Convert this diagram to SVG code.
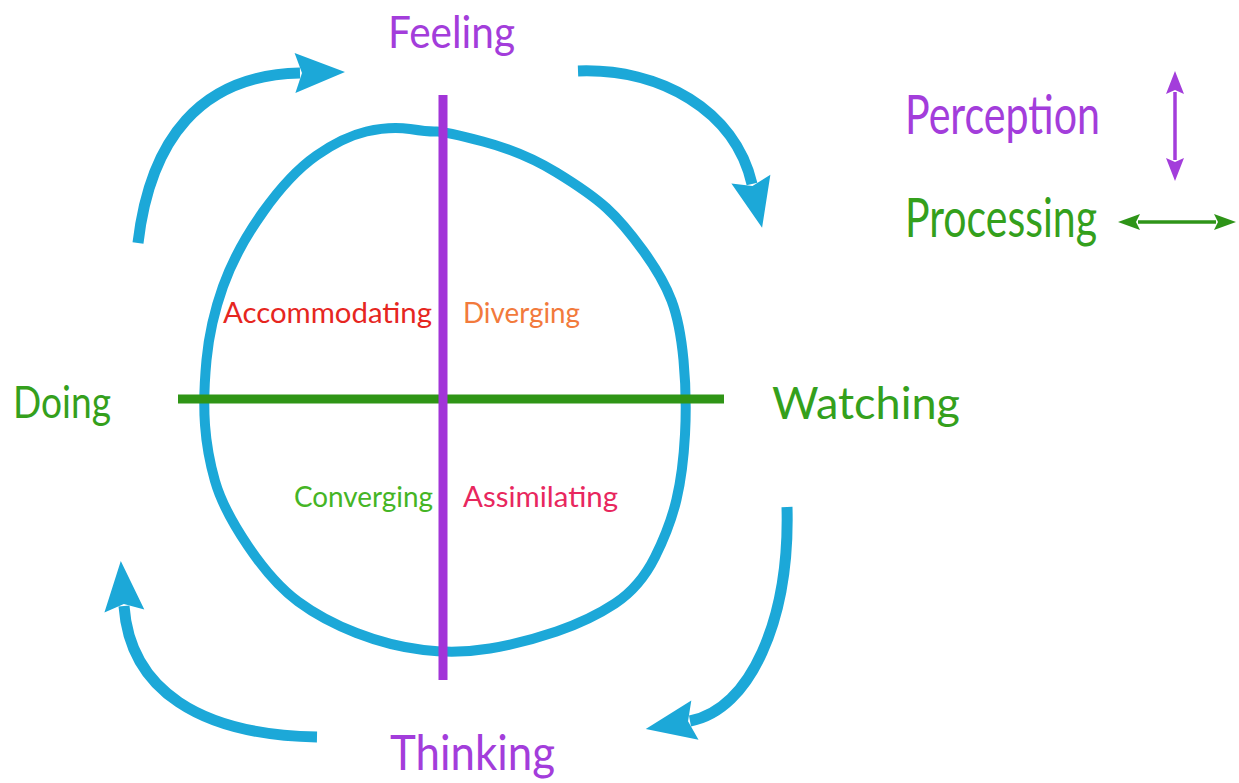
<svg xmlns="http://www.w3.org/2000/svg" width="1239" height="783" viewBox="0 0 1239 783">
  <style>
    .cycle { fill: none; stroke: #1ca8d8; stroke-width: 11; stroke-linecap: butt; }
    .loop { fill: none; stroke: #1ca8d8; stroke-width: 10; stroke-linejoin: round; }
    .label { font-family: Lato, "Open Sans", sans-serif; }
    .purple { fill: #a33ddb; }
    .green { fill: #34a01c; }
  </style>
  <defs>
    <marker id="blueHead" markerUnits="userSpaceOnUse" markerWidth="52" markerHeight="42" viewBox="0 0 52 42" refX="5" refY="21" orient="auto" overflow="visible">
      <path d="M0,1 L50,21 L0,41 L7,21 Z" fill="#1ca8d8"/>
    </marker>
    <marker id="purpleHead" markerUnits="userSpaceOnUse" markerWidth="24" markerHeight="20" viewBox="0 0 24 20" refX="2" refY="10" orient="auto-start-reverse" overflow="visible">
      <path d="M0,1 L23,10 L0,19 L4,10 Z" fill="#a33ddb"/>
    </marker>
    <marker id="greenHead" markerUnits="userSpaceOnUse" markerWidth="24" markerHeight="18" viewBox="0 0 24 18" refX="2" refY="9" orient="auto-start-reverse" overflow="visible">
      <path d="M0,1 L22,9 L0,17 L4,9 Z" fill="#2e9418"/>
    </marker>
  </defs>

  <!-- central learning loop -->
  <g id="loop">
    <path class="loop" d="M436.5,131.5 Q443,131 483,141.5 Q523,152 556.5,172.5 Q590,193 606.5,208 Q623,223 643,250.5 Q663,278 671.5,300.5 Q680,323 683.5,360 Q687,397 685,434.5 Q683,472 676.5,499.5 Q670,527 655,557 Q640,587 615,603.5 Q590,620 556.5,631.5 Q523,643 490,648.5 Q457,654 423.5,650 Q390,646 356.5,633 Q323,620 298,601.5 Q273,583 248,546 Q223,509 215,481 Q207,453 205,425 Q203,397 206.5,360 Q210,323 223,286.5 Q236,250 263,212 Q290,174 316.5,155.5 Q343,137 366.5,131.5 Q390,126 410,129 Q430,132 436.5,131.5 Z"/>
  </g>

  <!-- axes -->
  <g id="axes">
    <line x1="178" y1="399" x2="724" y2="399" stroke="#2f9516" stroke-width="9"/>
    <line x1="443" y1="95" x2="443" y2="680" stroke="#a234d8" stroke-width="9"/>
  </g>

  <!-- cycle arrows -->
  <g id="connectors">
    <path class="cycle" d="M138,243 C150,140 200,75 300,73" marker-end="url(#blueHead)"/>
    <path class="cycle" d="M578,71 C660,68 735,110 752,184" marker-end="url(#blueHead)"/>
    <path class="cycle" d="M787,507 C790,620 750,710 690,721" marker-end="url(#blueHead)"/>
    <path class="cycle" d="M317,737 C200,735 130,690 124,606" marker-end="url(#blueHead)"/>
  </g>

  <!-- pole labels -->
  <g id="feeling"><text class="label purple" x="388" y="48" font-size="44" textLength="127" lengthAdjust="spacingAndGlyphs">Feeling</text></g>
  <g id="watching"><text class="label green" x="772" y="419" font-size="44" textLength="188" lengthAdjust="spacingAndGlyphs">Watching</text></g>
  <g id="thinking"><text class="label purple" x="390" y="770" font-size="48" textLength="165" lengthAdjust="spacingAndGlyphs">Thinking</text></g>
  <g id="doing"><text class="label green" x="13" y="418" font-size="44" textLength="98" lengthAdjust="spacingAndGlyphs">Doing</text></g>

  <!-- quadrant labels -->
  <g id="accommodating"><text class="label" fill="#e6261f" x="223" y="323" font-size="29" textLength="209" lengthAdjust="spacingAndGlyphs">Accommodating</text></g>
  <g id="diverging"><text class="label" fill="#f27a3c" x="463" y="323" font-size="29" textLength="117" lengthAdjust="spacingAndGlyphs">Diverging</text></g>
  <g id="converging"><text class="label" fill="#45b525" x="294" y="507" font-size="29" textLength="139" lengthAdjust="spacingAndGlyphs">Converging</text></g>
  <g id="assimilating"><text class="label" fill="#e8275e" x="463" y="507" font-size="29" textLength="155" lengthAdjust="spacingAndGlyphs">Assimilating</text></g>

  <!-- legend -->
  <g id="perception">
    <text class="label purple" x="905" y="134" font-size="54" textLength="195" lengthAdjust="spacingAndGlyphs">Perception</text>
    <line x1="1175" y1="92" x2="1175" y2="160" stroke="#a33ddb" stroke-width="3.5" marker-start="url(#purpleHead)" marker-end="url(#purpleHead)"/>
  </g>
  <g id="processing">
    <text class="label green" x="905" y="237" font-size="54" textLength="192" lengthAdjust="spacingAndGlyphs">Processing</text>
    <line x1="1138" y1="222" x2="1216" y2="222" stroke="#2e9418" stroke-width="3.5" marker-start="url(#greenHead)" marker-end="url(#greenHead)"/>
  </g>
</svg>
